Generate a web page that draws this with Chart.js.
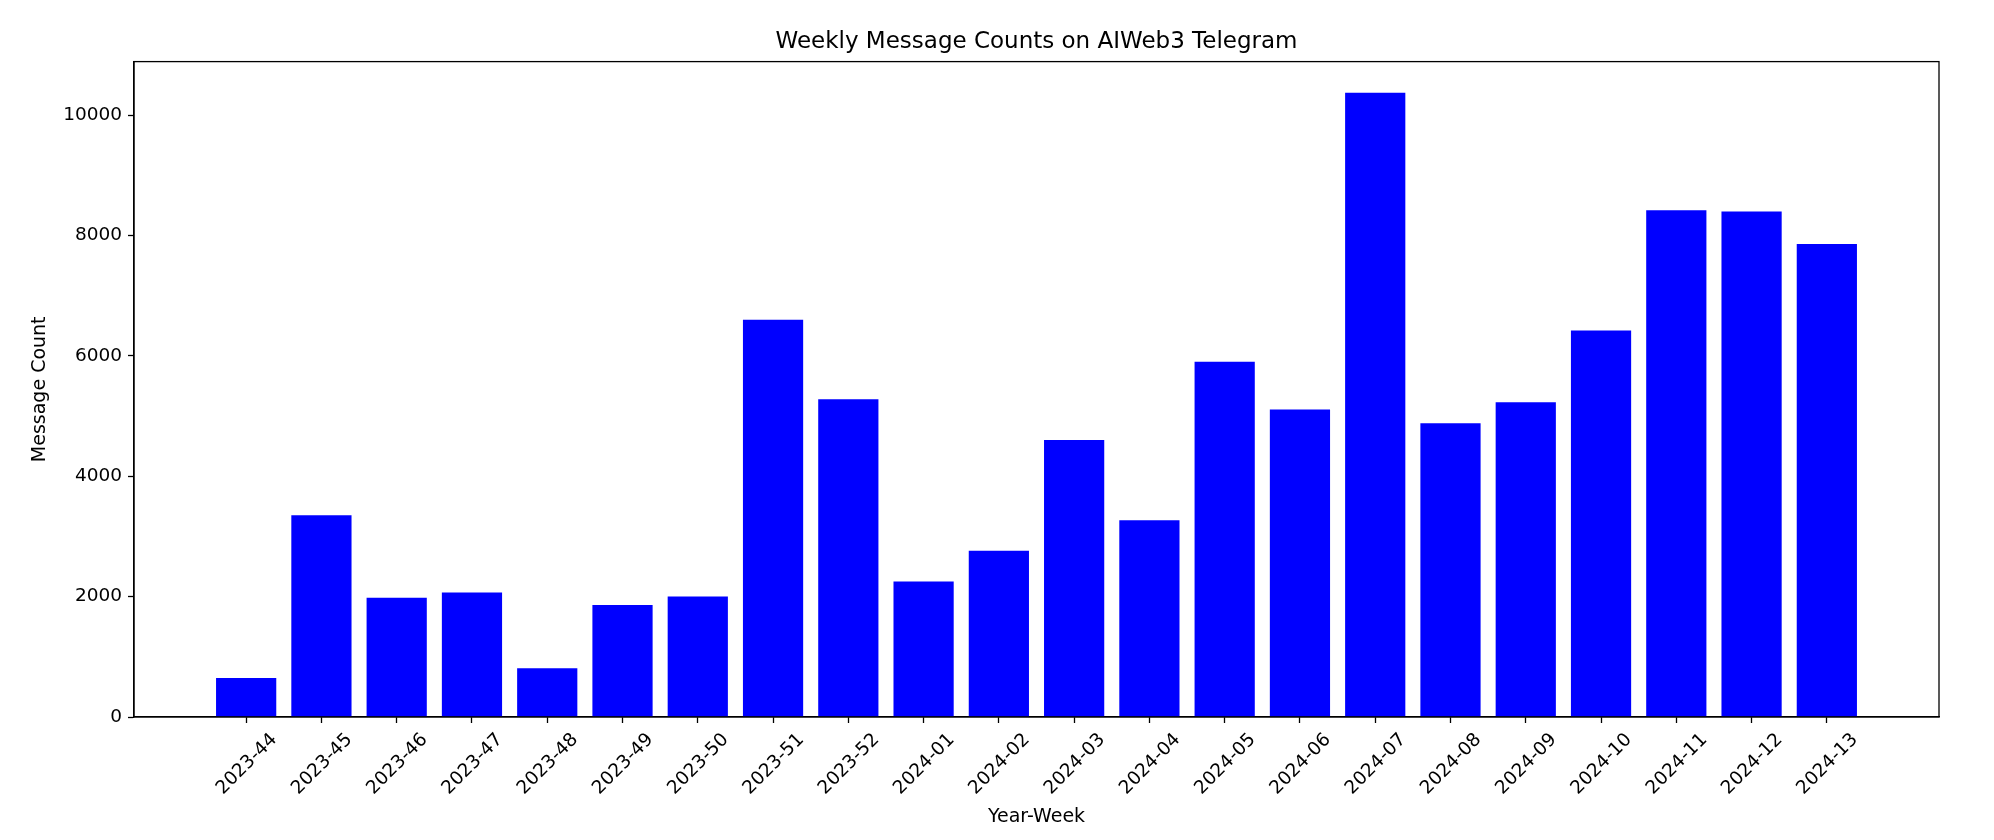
<!DOCTYPE html>
<html>
<head>
    <meta charset="utf-8">
    <title>Weekly Message Counts on AIWeb3 Telegram</title>
    <script src="https://cdn.jsdelivr.net/npm/chart.js@4.4.0/dist/chart.umd.min.js"></script>
    <style>
    html,
    body {
        margin: 0;
        padding: 0;
        background: #fff;
    }

    canvas {
        display: block;
    }
    </style>
</head>

<body>
    <canvas id="myChart" width="1994" height="840"></canvas>

    <script>
      // weeks on the x axis and the message count for each one
      const weeks = ['2023-44', '2023-45', '2023-46', '2023-47', '2023-48', '2023-49', '2023-50',
        '2023-51', '2023-52', '2024-01', '2024-02', '2024-03', '2024-04', '2024-05', '2024-06',
        '2024-07', '2024-08', '2024-09', '2024-10', '2024-11', '2024-12', '2024-13'];
      const counts = [650, 3350, 1980, 2070, 810, 1860, 2000, 6600, 5280, 2250, 2760, 4600,
        3270, 5900, 5110, 10370, 4880, 5230, 6420, 8420, 8400, 7860];
      const yTicks = [0, 2000, 4000, 6000, 8000, 10000];

      Chart.defaults.font.family = 'DejaVu Sans';
      Chart.defaults.color = '#000';

      // matplotlib draws a box round the plot, Chart.js only the two axes
      const frame = {
        id: 'frame',
        afterDraw(chart) {
          const a = chart.chartArea;
          const ctx = chart.ctx;
          ctx.save();
          ctx.strokeStyle = '#000';
          ctx.lineWidth = 1.3;
          ctx.strokeRect(a.left, a.top, a.right - a.left, a.bottom - a.top);
          ctx.restore();
        }
      };

      // bars are 0.8 wide, matplotlib puts 5% margin on each side
      const xMin = -0.4 - 0.05 * (weeks.length - 1 + 0.8);
      const xMax = weeks.length - 1 + 0.4 + 0.05 * (weeks.length - 1 + 0.8);
      const yMax = Math.max(...counts) * 1.05;

      const ctx = document.getElementById('myChart').getContext('2d');
      const myChart = new Chart(ctx, {
        type: 'bar',
        data: {
          datasets: [{
            data: counts.map((c, i) => ({ x: i, y: c })),
            backgroundColor: '#0000ff',
            borderWidth: 0,
            barPercentage: 0.8,
            categoryPercentage: 1.0
          }]
        },
        options: {
          responsive: false,
          animation: false,
          devicePixelRatio: 1,
          layout: { padding: { left: 0, right: 55, top: 0, bottom: 0 } },
          plugins: {
            legend: { display: false },
            tooltip: { enabled: false },
            title: {
              display: true,
              fullSize: false,
              text: 'Weekly Message Counts on AIWeb3 Telegram',
              font: { size: 23, weight: 'normal' },
              color: '#000',
              padding: { top: 28, bottom: 6 }
            }
          },
          scales: {
            x: {
              type: 'linear',
              min: xMin,
              max: xMax,
              offset: false,
              afterBuildTicks: (scale) => {
                scale.ticks = weeks.map((w, i) => ({ value: i }));
              },
              afterFit: (scale) => { scale.height = 123; },
              ticks: {
                autoSkip: false,
                maxRotation: 45,
                minRotation: 45,
                padding: 6,
                labelOffset: 28,
                font: { size: 18.5 },
                callback: (v) => weeks[v]
              },
              grid: {
                offset: false,
                drawOnChartArea: false,
                drawTicks: true,
                tickLength: 6,
                tickColor: '#000',
                tickWidth: 1.3
              },
              border: { display: true, color: '#000', width: 1.3 },
              title: {
                display: true,
                text: 'Year-Week',
                font: { size: 19 },
                padding: { top: 0, bottom: 12 }
              }
            },
            y: {
              min: 0,
              max: yMax,
              afterBuildTicks: (scale) => {
                scale.ticks = yTicks.map(v => ({ value: v }));
              },
              afterFit: (scale) => { scale.width = 134; },
              ticks: {
                padding: 6,
                font: { size: 18.5 },
                callback: (v) => String(v)
              },
              grid: {
                drawOnChartArea: false,
                drawTicks: true,
                tickLength: 6,
                tickColor: '#000',
                tickWidth: 1.3
              },
              border: { display: true, color: '#000', width: 1.3 },
              title: {
                display: true,
                text: 'Message Count',
                font: { size: 19 },
                padding: { top: 29, bottom: 0 }
              }
            }
          }
        },
        plugins: [frame]
      });
    </script>
</body>

</html>
